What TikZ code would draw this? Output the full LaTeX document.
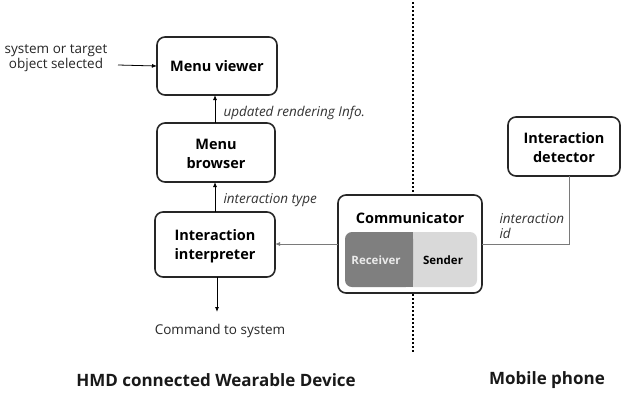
\documentclass[tikz,border=0pt]{standalone}
\usepackage{fontspec}
\setmainfont{Open Sans}
\usetikzlibrary{arrows.meta}
\definecolor{recvgray}{HTML}{7F7F7F}
\definecolor{sendgray}{HTML}{D9D9D9}
\definecolor{linegray}{HTML}{7A7A7A}
\begin{document}
\begin{tikzpicture}[x=1pt,y=-1pt,
  blockbox/.style={draw=black!85,line width=1.6pt,rounded corners=8pt,fill=white},
  title/.style={font=\fontsize{14.5}{19}\selectfont\bfseries,align=center},
  flow/.style={line width=0.8pt,-{Latex[length=5pt,width=4pt]}},
  note/.style={font=\fontsize{13.5}{15}\selectfont\itshape,text=black!80,align=left},
  plain/.style={font=\fontsize{13.5}{14.5}\selectfont,text=black!85,align=center},
  caption/.style={font=\fontsize{17}{20}\selectfont\bfseries,text=black!90}]
\useasboundingbox (0,0) rectangle (623,394);

% separator between the two devices
\draw[line width=1.8pt,dash pattern=on 1.8pt off 2.2pt] (413,2) -- (413,352);

% boxes of the wearable device
\draw[blockbox] (157,37) rectangle (277,95);
\node[title] (viewer) at (217,66) {Menu viewer};
\coordinate (viewerB) at (215,95);
\coordinate (viewerL) at (157,66);

\draw[blockbox] (157,123) rectangle (275,182);
\node[title] (browser) at (216,154) {Menu\\browser};
\coordinate (browserT) at (215,123);
\coordinate (browserB) at (215,182);

\draw[blockbox] (155,212) rectangle (275,277);
\node[title] (interp) at (215,246) {Interaction\\interpreter};
\coordinate (interpT) at (215,212);
\coordinate (interpB) at (217,277);
\coordinate (interpR) at (275,244);

% communicator with receiver and sender
\draw[blockbox] (338,195) rectangle (482,293);
\node[title] (comm) at (410,218) {Communicator};
\fill[sendgray,rounded corners=7pt] (400,232) rectangle (477,287);
\fill[recvgray,rounded corners=7pt] (345,232) rectangle (413,287);
\fill[recvgray] (380,232) rectangle (413,287);
\node[font=\fontsize{11.5}{13}\selectfont\bfseries,text=white!92!black] (recv) at (376,260) {Receiver};
\node[font=\fontsize{11.5}{13}\selectfont\bfseries] (send) at (443,260) {Sender};
\coordinate (commL) at (338,244);
\coordinate (commR) at (482,244);

% mobile phone side
\draw[blockbox] (508,117) rectangle (620,176);
\node[title] (detect) at (564,148) {Interaction\\detector};
\coordinate (detectB) at (569,176);

% connectors
\node[plain] (sel) at (56,58) {system or target\\object selected};
\coordinate (selE) at (118,65);
\draw[flow] (selE) -- (viewerL);

\draw[flow] (browserT) -- (viewerB);
\node[note,anchor=west] (upd) at (220,113) {updated rendering Info.};

\draw[flow] (interpT) -- (browserB);
\node[note,anchor=west] (itype) at (220,200) {interaction type};

\draw[flow,draw=linegray] (commL) -- (interpR);

\coordinate (cmdE) at (217,312);
\draw[flow] (interpB) -- (cmdE);
\node[plain] (cmd) at (220,331) {Command to system};

\draw[line width=0.8pt,draw=linegray] (detectB) |- (commR);
\node[note,anchor=west,font=\fontsize{13.5}{15}\selectfont\itshape] (iid) at (496,226) {interaction\\id};

% device captions
\node[caption] (hmd) at (216,380) {HMD connected Wearable Device};
\node[caption] (mobile) at (547,380) {Mobile phone};
\end{tikzpicture}
\end{document}
